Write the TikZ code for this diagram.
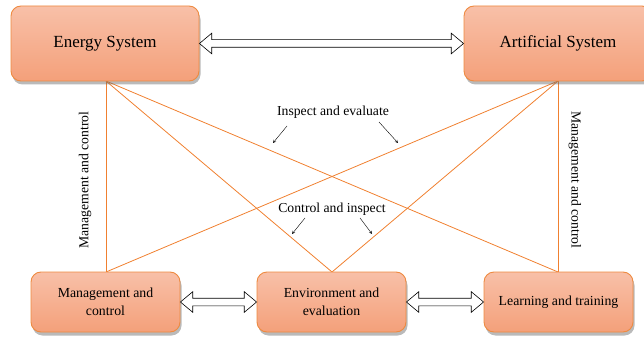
\documentclass[tikz,border=0pt]{standalone}
\usepackage{fontspec}
\setmainfont{Liberation Serif}
\usetikzlibrary{shapes.arrows,shadows,calc}
\definecolor{boxtop}{RGB}{248,192,168}
\definecolor{boxbot}{RGB}{244,160,122}
\definecolor{boxline}{RGB}{238,138,64}
\definecolor{linkline}{RGB}{240,128,48}
\tikzset{
  sysbox/.style={draw=boxline, line width=0.9pt, rounded corners=10pt,
    top color=boxtop, bottom color=boxbot,
    drop shadow={shadow xshift=1.5pt, shadow yshift=-3.5pt, opacity=0.45, fill=black!60},
    align=center, inner sep=0pt},
  bigbox/.style={sysbox, minimum width=188pt, minimum height=75pt, font=\fontsize{17}{20}\selectfont},
  smallbox/.style={sysbox, minimum width=149pt, minimum height=60pt, font=\fontsize{13.8}{18}\selectfont},
  dblarrow/.style={double arrow, draw=black, fill=white, line width=0.6pt,
    inner xsep=0pt, inner ysep=3.5pt, double arrow head extend=6.5pt, double arrow tip angle=80,
    anchor=center},
  link/.style={draw=linkline, line width=0.8pt},
  lbl/.style={font=\fontsize{13.7}{16}\selectfont, inner sep=1pt},
  pointer/.style={-stealth, line width=0.4pt, black}
}
\begin{document}
\begin{tikzpicture}[x=1pt,y=-1pt]
\useasboundingbox (0,0) rectangle (644,339);
% links (drawn first, under boxes)
\coordinate (esb) at (106,81);
\coordinate (asb) at (558,81);
\coordinate (mct) at (106,272);
\coordinate (eet) at (332,272);
\coordinate (ltt) at (558,272);
\draw[link] (esb) -- (mct);
\draw[link] (esb) -- (eet);
\draw[link] (esb) -- (ltt);
\draw[link] (asb) -- (ltt);
\draw[link] (asb) -- (eet);
\draw[link] (asb) -- (mct);
% boxes
\node[bigbox] (es) at (105,43.5) {Energy System};
\node[bigbox] (as) at (558,43.5) {Artificial System};
\node[smallbox] (mc) at (105.5,302) {Management and\\control};
\node[smallbox] (ee) at (331.5,302) {Environment and\\evaluation};
\node[smallbox] (lt) at (558.5,302) {Learning and training};
% double arrows
\path let \p1=(es.east), \p2=(as.west), \n1={\x2-\x1} in
  node[dblarrow, minimum height=\n1] (a1) at ($(\p1)!0.5!(\p2)$) {};
\path let \p1=(mc.east), \p2=(ee.west), \n1={\x2-\x1} in
  node[dblarrow, minimum height=\n1] (a2) at ($(\p1)!0.5!(\p2)$) {};
\path let \p1=(ee.east), \p2=(lt.west), \n1={\x2-\x1} in
  node[dblarrow, minimum height=\n1] (a3) at ($(\p1)!0.5!(\p2)$) {};
% labels
\node[lbl] (ie) at (333,112) {Inspect and evaluate};
\node[lbl] (ci) at (332,209) {Control and inspect};
\node[lbl, rotate=90] (ml) at (85,180) {Management and control};
\node[lbl, rotate=-90] (mr) at (575,180) {Management and control};
% pointer arrows
\coordinate (p1s) at (287,126); \coordinate (p1e) at (273,143);
\coordinate (p2s) at (379,122); \coordinate (p2e) at (398,143);
\coordinate (p3s) at (305,218); \coordinate (p3e) at (292,234);
\coordinate (p4s) at (360,218); \coordinate (p4e) at (372,234);
\draw[pointer] (p1s) -- (p1e);
\draw[pointer] (p2s) -- (p2e);
\draw[pointer] (p3s) -- (p3e);
\draw[pointer] (p4s) -- (p4e);
\end{tikzpicture}
\end{document}
